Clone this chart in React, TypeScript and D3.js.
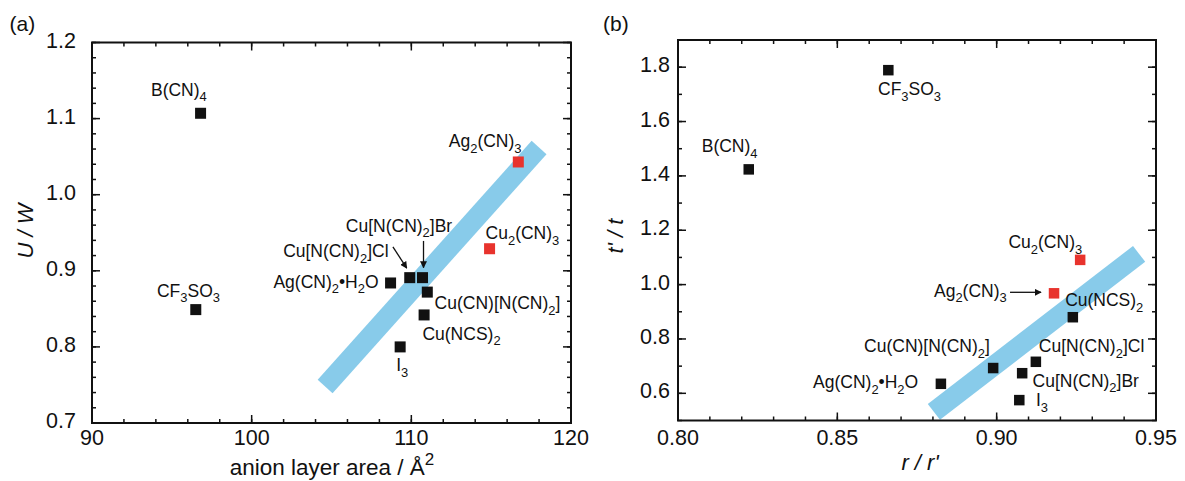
import React from 'react';
import * as d3 from 'd3';

const W = 1185;
const H = 481;

// compound names, same order for both panels ("_" marks a subscript char)
const names = [
  'B(CN)_4',
  'CF_3SO_3',
  'Ag_2(CN)_3',
  'Cu_2(CN)_3',
  'Ag(CN)_2•H_2O',
  'Cu[N(CN)_2]Cl',
  'Cu[N(CN)_2]Br',
  'Cu(CN)[N(CN)_2]',
  'Cu(NCS)_2',
  'I_3',
];
const redNames = ['Ag_2(CN)_3', 'Cu_2(CN)_3'];

// panel (a): anion layer area vs U/W
const areaA = [96.8, 96.5, 116.7, 114.9, 108.7, 109.9, 110.7, 111.0, 110.8, 109.3];
const uwA = [1.107, 0.849, 1.043, 0.929, 0.884, 0.891, 0.891, 0.872, 0.842, 0.8];
const bandA = [
  [104.6, 0.748],
  [118.0, 1.062],
];

// panel (b): r/r' vs t'/t
const rrB = [0.8222, 0.866, 0.918, 0.9262, 0.8825, 0.9123, 0.908, 0.8989, 0.9239, 0.9071];
const ttB = [1.424, 1.789, 0.968, 1.091, 0.635, 0.716, 0.674, 0.693, 0.88, 0.575];
const bandB = [
  [0.8803, 0.532],
  [0.9447, 1.113],
];

// label placement relative to the marker, in px
type Lab = { dx: number; dy: number; end?: boolean };
const labelsA: Record<string, Lab> = {
  'B(CN)_4': { dx: -49.6, dy: -17.7 },
  'CF_3SO_3': { dx: -38.8, dy: -13 },
  'Ag_2(CN)_3': { dx: -69.5, dy: -15.2 },
  'Cu_2(CN)_3': { dx: -4, dy: -9.7 },
  'Ag(CN)_2•H_2O': { dx: -12, dy: 4.7, end: true },
  'Cu[N(CN)_2]Cl': { dx: -21.2, dy: -20.7, end: true },
  'Cu[N(CN)_2]Br': { dx: -76.7, dy: -46 },
  'Cu(CN)[N(CN)_2]': { dx: 7.3, dy: 17 },
  'Cu(NCS)_2': { dx: -1.7, dy: 24.7 },
  'I_3': { dx: -4, dy: 24 },
};
const labelsB: Record<string, Lab> = {
  'B(CN)_4': { dx: -47, dy: -17.6 },
  'CF_3SO_3': { dx: -10.3, dy: 25 },
  'Ag_2(CN)_3': { dx: -47.3, dy: 3.4, end: true },
  'Cu_2(CN)_3': { dx: -71.7, dy: -11.7 },
  'Ag(CN)_2•H_2O': { dx: -22.7, dy: 4.6, end: true },
  'Cu[N(CN)_2]Cl': { dx: 3, dy: -10 },
  'Cu[N(CN)_2]Br': { dx: 10.4, dy: 13.4 },
  'Cu(CN)[N(CN)_2]': { dx: -3.3, dy: -16.3, end: true },
  'Cu(NCS)_2': { dx: -7.7, dy: -11.3 },
  'I_3': { dx: 16.7, dy: 6 },
};
// arrows: [name, x0, y0, x1, y1] offsets from the marker
const arrowsA: [string, number, number, number, number][] = [
  ['Cu[N(CN)_2]Br', 1, -36.7, 1, -10],
  ['Cu[N(CN)_2]Cl', -16.8, -30.8, -3, -9.5],
];
const arrowsB: [string, number, number, number, number][] = [['Ag_2(CN)_3', -44, -1, -13, -1]];

const FONT = 'Liberation Sans, Arial, Helvetica, sans-serif';
const BLUE = '#88cbea';
const RED = '#e8332d';
const TICK_FS = 21.5;
const LABEL_FS = 17.5;

function Formula({ text, x, y, size, anchor }: { text: string; x: number; y: number; size: number; anchor: string }) {
  const parts: { s: string; sub: boolean }[] = [];
  for (let i = 0; i < text.length; i++) {
    if (text[i] === '_') {
      parts.push({ s: text[i + 1], sub: true });
      i++;
    } else if (parts.length && !parts[parts.length - 1].sub) {
      parts[parts.length - 1].s += text[i];
    } else {
      parts.push({ s: text[i], sub: false });
    }
  }
  let shift = 0;
  return (
    <text x={x} y={y} fontSize={size} textAnchor={anchor} fontFamily={FONT} fill="#111">
      {parts.map((p, i) => {
        const target = p.sub ? size * 0.33 : 0;
        const dy = target - shift;
        shift = target;
        return (
          <tspan key={i} dy={dy} fontSize={p.sub ? size * 0.74 : size}>
            {p.s}
          </tspan>
        );
      })}
    </text>
  );
}

type PanelProps = {
  box: { l: number; r: number; t: number; b: number };
  xDom: [number, number];
  yDom: [number, number];
  xMajor: number[];
  xMinor: number[];
  yMajor: number[];
  yMinor: number[];
  xFmt: (v: number) => string;
  yFmt: (v: number) => string;
  xs: number[];
  ys: number[];
  band: number[][];
  labels: Record<string, Lab>;
  arrows: [string, number, number, number, number][];
  size: number;
  yLabelGap: number;
};

function Panel(p: PanelProps) {
  const x = d3.scaleLinear().domain(p.xDom).range([p.box.l, p.box.r]);
  const y = d3.scaleLinear().domain(p.yDom).range([p.box.b, p.box.t]);
  const { l, r, t, b } = p.box;
  const tick = (v: number, len: number, key: string) => [
    <line key={key + 'b'} x1={x(v)} x2={x(v)} y1={b} y2={b - len} />,
    <line key={key + 't'} x1={x(v)} x2={x(v)} y1={t} y2={t + len} />,
  ];
  const ytick = (v: number, len: number, key: string) => [
    <line key={key + 'l'} x1={l} x2={l + len} y1={y(v)} y2={y(v)} />,
    <line key={key + 'r'} x1={r} x2={r - len} y1={y(v)} y2={y(v)} />,
  ];
  const pts = names.map((n, i) => ({ n, px: x(p.xs[i]), py: y(p.ys[i]) }));
  const ptOf = (n: string) => pts.find(d => d.n === n)!;
  return (
    <g>
      <line
        x1={x(p.band[0][0])}
        y1={y(p.band[0][1])}
        x2={x(p.band[1][0])}
        y2={y(p.band[1][1])}
        stroke={BLUE}
        strokeWidth={20}
      />
      <g stroke="#111" strokeWidth={1.5}>
        {p.xMinor.map((v, i) => tick(v, 4, 'xm' + i))}
        {p.xMajor.map((v, i) => tick(v, 8, 'xM' + i))}
        {p.yMinor.map((v, i) => ytick(v, 4, 'ym' + i))}
        {p.yMajor.map((v, i) => ytick(v, 8, 'yM' + i))}
      </g>
      <rect x={l} y={t} width={r - l} height={b - t} fill="none" stroke="#111" strokeWidth={2} />
      {p.xMajor.map(v => (
        <text key={'xl' + v} x={x(v)} y={445} fontSize={TICK_FS} textAnchor="middle" fontFamily={FONT} fill="#111">
          {p.xFmt(v)}
        </text>
      ))}
      {p.yMajor.map(v => (
        <text key={'yl' + v} x={l - p.yLabelGap} y={y(v) + 5} fontSize={TICK_FS} textAnchor="end" fontFamily={FONT} fill="#111">
          {p.yFmt(v)}
        </text>
      ))}
      {pts.map(d => (
        <rect
          key={'pt' + d.n}
          x={d.px - p.size / 2}
          y={d.py - p.size / 2}
          width={p.size}
          height={p.size}
          fill={redNames.includes(d.n) ? RED : '#111'}
        />
      ))}
      {pts.map(d => {
        const lab = p.labels[d.n];
        return (
          <Formula
            key={'lb' + d.n}
            text={d.n}
            x={d.px + lab.dx}
            y={d.py + lab.dy}
            size={LABEL_FS}
            anchor={lab.end ? 'end' : 'start'}
          />
        );
      })}
      {p.arrows.map(([n, x0, y0, x1, y1]) => {
        const d = ptOf(n);
        return (
          <line
            key={'ar' + n}
            x1={d.px + x0}
            y1={d.py + y0}
            x2={d.px + x1}
            y2={d.py + y1}
            stroke="#111"
            strokeWidth={1.3}
            markerEnd="url(#head)"
          />
        );
      })}
    </g>
  );
}

const range = (a: number, b: number, s: number) => d3.range(Math.round((b - a) / s) + 1).map(i => +(a + i * s).toFixed(4));

export default function App() {
  return (
    <svg width={W} height={H} style={{ position: 'absolute', left: 0, top: 0, background: '#fff' }}>
      <defs>
        <marker id="head" viewBox="0 0 10 10" refX={9} refY={5} markerWidth={7} markerHeight={7} orient="auto" markerUnits="userSpaceOnUse">
          <path d="M0,0 L10,5 L0,10 z" fill="#111" />
        </marker>
      </defs>
      <rect width={W} height={H} fill="#fff" />

      <Panel
        box={{ l: 92, r: 571, t: 42.5, b: 423 }}
        xDom={[90, 120]}
        yDom={[0.7, 1.2]}
        xMajor={range(90, 120, 10)}
        xMinor={range(90, 120, 2)}
        yMajor={range(0.7, 1.2, 0.1)}
        yMinor={range(0.7, 1.2, 0.02)}
        xFmt={d3.format('d')}
        yFmt={d3.format('.1f')}
        xs={areaA}
        ys={uwA}
        band={bandA}
        labels={labelsA}
        arrows={arrowsA}
        size={11}
        yLabelGap={16}
      />
      <Panel
        box={{ l: 678, r: 1156, t: 40, b: 420.5 }}
        xDom={[0.8, 0.95]}
        yDom={[0.5, 1.9]}
        xMajor={range(0.8, 0.95, 0.05)}
        xMinor={range(0.8, 0.95, 0.01)}
        yMajor={range(0.6, 1.8, 0.2)}
        yMinor={range(0.5, 1.9, 0.1)}
        xFmt={d3.format('.2f')}
        yFmt={d3.format('.1f')}
        xs={rrB}
        ys={ttB}
        band={bandB}
        labels={labelsB}
        arrows={arrowsB}
        size={10.5}
        yLabelGap={8}
      />

      <g fontFamily={FONT} fill="#111">
        <text x={9.5} y={31} fontSize={21}>(a)</text>
        <text x={603} y={31} fontSize={21}>(b)</text>
        <text transform="translate(33,231) rotate(-90)" fontSize={22} textAnchor="middle" fontStyle="italic">
          U / W
        </text>
        <text transform="translate(623,236) rotate(-90)" fontSize={22} textAnchor="middle" fontStyle="italic">
          t' / t
        </text>
        <text x={332} y={475} fontSize={22.5} textAnchor="middle">
          anion layer area / Å<tspan dy={-10} fontSize={17}>2</tspan>
        </text>
        <text x={920} y={470} fontSize={22} textAnchor="middle" fontStyle="italic">
          r / r'
        </text>
      </g>
    </svg>
  );
}
